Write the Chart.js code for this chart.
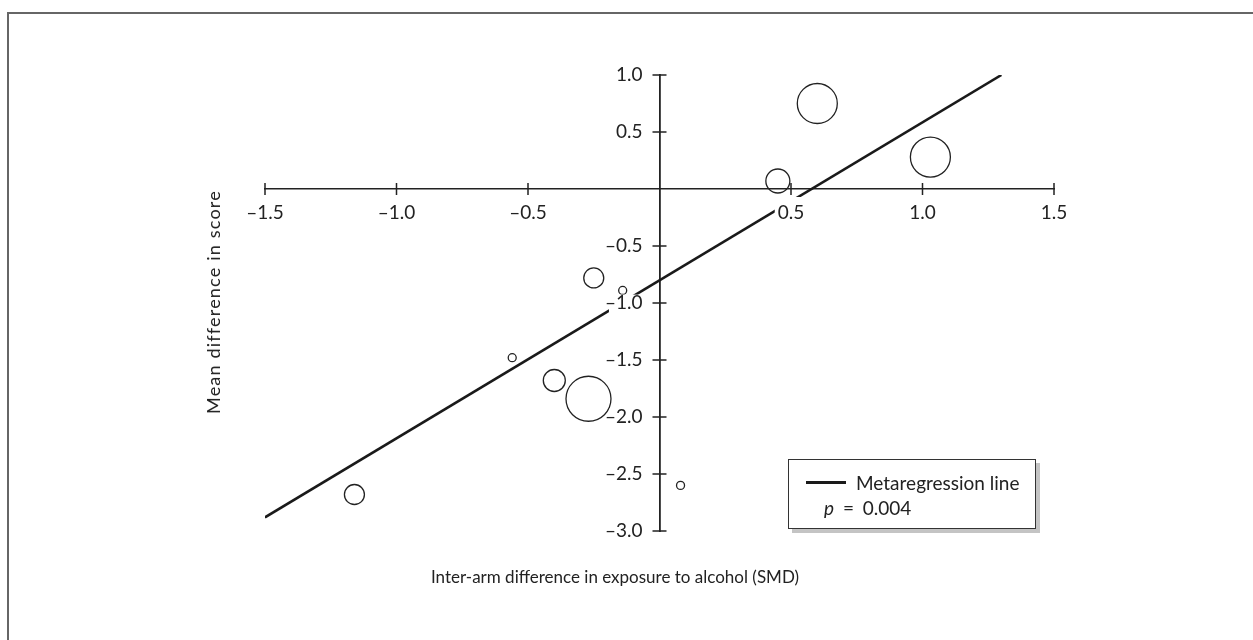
<!DOCTYPE html>
<html>
<head>
<meta charset="utf-8">
<title>Metaregression of mean difference in score</title>
<script src="https://cdn.jsdelivr.net/npm/chart.js@4.4.1/dist/chart.umd.min.js"></script>
<style>
  html, body { margin: 0; padding: 0; background: #fff; overflow: hidden; }
  #wrap { position: relative; width: 1253px; height: 640px; overflow: hidden; font-family: Lato, "Open Sans", sans-serif; color: #222; }
  #frame { position: absolute; left: 7px; top: 12px; width: 1300px; height: 700px; border: 2px solid #666; box-sizing: border-box; }
  #chart { position: absolute; left: 0; top: 0; }
  .title { position: absolute; font-size: 17px; white-space: nowrap; line-height: 20px; }
  #xTitle { left: 615px; top: 577px; transform: translate(-50%, -50%); }
  #yTitle { left: 213px; top: 302px; font-size: 18px; letter-spacing: 1.2px; transform: translate(-50%, -50%) rotate(-90deg); }
  #legend { position: absolute; left: 788px; top: 459px; width: 248px; height: 70px; border: 1px solid #333; box-sizing: border-box; background: #fff; box-shadow: 4px 4px 0 #c4c4c4; font-size: 19px; }
  #legend .swatch { position: absolute; left: 17px; top: 21px; width: 40px; height: 3px; background: #1a1a1a; }
  #legend .lbl { position: absolute; left: 67px; top: 12px; line-height: 22px; white-space: nowrap; }
  #legend .pval { position: absolute; left: 35px; top: 37px; line-height: 22px; white-space: nowrap; word-spacing: 4px; }
</style>
</head>
<body>
<div id="wrap">
  <div id="frame"></div>
  <canvas id="chart" width="1253" height="640"></canvas>
  <div class="title" id="xTitle">Inter-arm difference in exposure to alcohol (SMD)</div>
  <div class="title" id="yTitle">Mean difference in score</div>
  <div id="legend">
    <div class="swatch"></div>
    <div class="lbl">Metaregression line</div>
    <div class="pval"><i>p</i> = 0.004</div>
  </div>
</div>
<script>
document.addEventListener('DOMContentLoaded', () => {
  // Trial bubbles: exposure difference (SMD), mean score difference, bubble radius (weight)
  const trialX = [0.60, 1.03, 0.45, -0.25, -0.14, -0.56, -0.40, -0.27, -1.16, 0.08];
  const trialY = [0.75, 0.28, 0.07, -0.78, -0.89, -1.48, -1.68, -1.84, -2.68, -2.60];
  const trialR = [20, 20, 12, 10, 4, 4, 11, 22.5, 10, 4];

  // Metaregression line end points
  const lineX = [-1.5, 1.3];
  const lineY = [-2.88, 1.0];

  // Tick values (zero is left unlabelled)
  const xTicks = [-1.5, -1.0, -0.5, 0.5, 1.0, 1.5];
  const yTicks = [1.0, 0.5, -0.5, -1.0, -1.5, -2.0, -2.5, -3.0];

  const ink = '#222';
  const tickFont = { family: 'Lato, "Open Sans", sans-serif', size: 19 };
  const yLabelGap = 17;

  const fmt = v => (v < 0 ? '\u2013' : '') + Math.abs(v).toFixed(1);

  // Draws tick marks that cross the axis line on both sides
  const crossTicks = {
    id: 'crossTicks',
    beforeDatasetsDraw(chart) {
      const { ctx, scales: { x, y } } = chart;
      const y0 = y.getPixelForValue(0);
      const x0 = x.getPixelForValue(0);
      ctx.save();
      ctx.strokeStyle = ink;
      ctx.lineWidth = 1.5;
      ctx.beginPath();
      xTicks.forEach(v => {
        const px = x.getPixelForValue(v);
        ctx.moveTo(px, y0 - 6);
        ctx.lineTo(px, y0 + 6);
      });
      yTicks.forEach(v => {
        const py = y.getPixelForValue(v);
        ctx.moveTo(x0 - 7, py);
        ctx.lineTo(x0 + 7, py);
      });
      ctx.stroke();
      ctx.restore();
    }
  };

  // y labels on an axis placed at x = 0 ignore ticks.padding, so push them left here
  const shiftYLabels = {
    id: 'shiftYLabels',
    beforeDraw(chart) {
      const items = chart.scales.y.getLabelItems();
      if (items._shifted) return;
      items.forEach(it => { it.options.translation[0] -= yLabelGap; });
      items._shifted = true;
    }
  };

  new Chart(document.getElementById('chart'), {
    type: 'bubble',
    data: {
      datasets: [
        {
          type: 'line',
          label: 'Metaregression line',
          data: lineX.map((v, i) => ({ x: v, y: lineY[i] })),
          borderColor: '#1a1a1a',
          borderWidth: 2.6,
          pointRadius: 0,
          fill: false
        },
        {
          label: 'Trials',
          data: trialX.map((v, i) => ({ x: v, y: trialY[i], r: trialR[i] })),
          backgroundColor: 'rgba(0,0,0,0)',
          borderColor: ink,
          borderWidth: 1.3
        }
      ]
    },
    options: {
      responsive: false,
      animation: false,
      layout: { padding: { left: 265, right: 199, top: 75, bottom: 109 } },
      plugins: { legend: { display: false }, tooltip: { enabled: false } },
      scales: {
        x: {
          type: 'linear',
          min: -1.5,
          max: 1.5,
          position: { y: 0 },
          afterFit: s => { s.height = 0; },
          afterBuildTicks: s => { s.ticks = xTicks.map(v => ({ value: v })); },
          grid: { display: false, drawTicks: false },
          border: { color: ink, width: 1.6 },
          ticks: {
            z: 1,
            padding: 12,
            autoSkip: false,
            maxRotation: 0,
            color: ink,
            font: tickFont,
            showLabelBackdrop: true,
            backdropColor: '#fff',
            backdropPadding: { top: 4, bottom: 0, left: 3, right: 3 },
            callback: fmt
          }
        },
        y: {
          type: 'linear',
          min: -3.0,
          max: 1.0,
          position: { x: 0 },
          afterFit: s => { s.width = 0; },
          afterBuildTicks: s => { s.ticks = yTicks.map(v => ({ value: v })); },
          grid: { display: false, drawTicks: false },
          border: { color: ink, width: 1.8 },
          ticks: {
            z: 1,
            padding: 0,
            autoSkip: false,
            color: ink,
            font: tickFont,
            showLabelBackdrop: true,
            backdropColor: '#fff',
            backdropPadding: { top: -3, bottom: 1, left: -4, right: 2 },
            callback: fmt
          }
        }
      }
    },
    plugins: [crossTicks, shiftYLabels]
  });
});
</script>
</body>
</html>
